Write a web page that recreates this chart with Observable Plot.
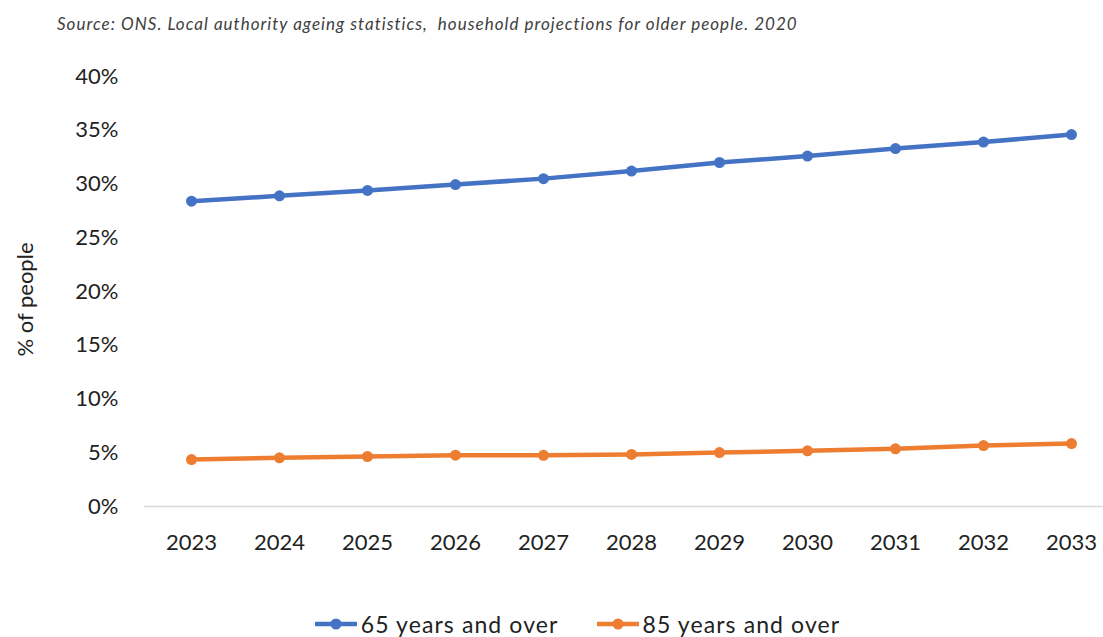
<!DOCTYPE html>
<html>
<head>
<meta charset="utf-8">
<script src="https://cdn.jsdelivr.net/npm/d3@7"></script>
<script src="https://cdn.jsdelivr.net/npm/@observablehq/plot@0.6"></script>
<style>
  html, body { margin: 0; padding: 0; background: #fff; }
  body { width: 1103px; height: 637px; overflow: hidden; font-family: Lato, "Open Sans", sans-serif; }
  #source { height: 50px; box-sizing: border-box; padding: 13px 0 0 57px; font-style: italic; font-size: 17px; letter-spacing: 1.02px; color: #404040; white-space: pre; }
  #chart svg { display: block; overflow: visible; }
  #legend { display: flex; justify-content: center; align-items: center; gap: 38px; margin-top: 40px; padding-left: 52px; font-size: 23px; letter-spacing: 1.1px; color: #222; }
  .item { display: flex; align-items: center; gap: 4px; }
</style>
</head>
<body>
<div id="source">Source: ONS. Local authority ageing statistics,  household projections for older people. 2020</div>
<div id="chart"></div>
<div id="legend"></div>
<script>
// Share of the population in older age groups, projected by year
const years = [2023, 2024, 2025, 2026, 2027, 2028, 2029, 2030, 2031, 2032, 2033];
const over65 = [28.4, 28.9, 29.4, 29.95, 30.5, 31.2, 32.0, 32.6, 33.3, 33.9, 34.6];
const over85 = [4.37, 4.53, 4.65, 4.77, 4.76, 4.84, 5.02, 5.18, 5.37, 5.67, 5.85];
const seriesNames = ["65 years and over", "85 years and over"];
const seriesColors = ["#4472C4", "#ED7D31"];
const yTicks = [0, 5, 10, 15, 20, 25, 30, 35, 40];
const yTitle = "% of people";

const rows = [
  ...years.map((year, i) => ({year, value: over65[i], series: seriesNames[0]})),
  ...years.map((year, i) => ({year, value: over85[i], series: seriesNames[1]}))
];

const chart = Plot.plot({
  width: 1103,
  height: 520,
  marginTop: 26,
  marginBottom: 64,
  marginLeft: 144,
  marginRight: 0,
  style: {fontFamily: "Lato, 'Open Sans', sans-serif", fontSize: "22px", color: "#222"},
  x: {type: "point", domain: years, range: [188, 1073], padding: 0},
  y: {domain: [0, 40], range: [456, 26]},
  color: {domain: seriesNames, range: seriesColors},
  marks: [
    Plot.ruleY([0], {stroke: "#d9d9d9", strokeWidth: 1.5}),
    Plot.axisY({ticks: yTicks, tickSize: 0, tickPadding: 26, tickFormat: d => d + "%", label: null}),
    Plot.axisX({ticks: years, tickSize: 0, tickPadding: 28, tickFormat: d => String(d), label: null}),
    Plot.text([yTitle], {frameAnchor: "left", textAnchor: "middle", rotate: -90, dx: -119, dy: 8, fontSize: 22, fill: "#222", style: {letterSpacing: "0.6px"}}),
    Plot.line(rows, {x: "year", y: "value", z: "series", stroke: "series", strokeWidth: 4.5, strokeLinecap: "round"}),
    Plot.dot(rows, {x: "year", y: "value", fill: "series", r: 5.5})
  ]
});
document.getElementById("chart").append(chart);

// Legend: line-with-marker swatch followed by the series name
const legend = d3.select("#legend");
seriesNames.forEach((name, i) => {
  const item = legend.append("div").attr("class", "item");
  const sw = item.append("svg").attr("width", 42).attr("height", 14);
  sw.append("line").attr("x1", 1).attr("x2", 41).attr("y1", 7).attr("y2", 7)
    .attr("stroke", seriesColors[i]).attr("stroke-width", 4.5).attr("stroke-linecap", "round");
  sw.append("circle").attr("cx", 21).attr("cy", 7).attr("r", 5.5).attr("fill", seriesColors[i]);
  item.append("span").text(name);
});
</script>
</body>
</html>
